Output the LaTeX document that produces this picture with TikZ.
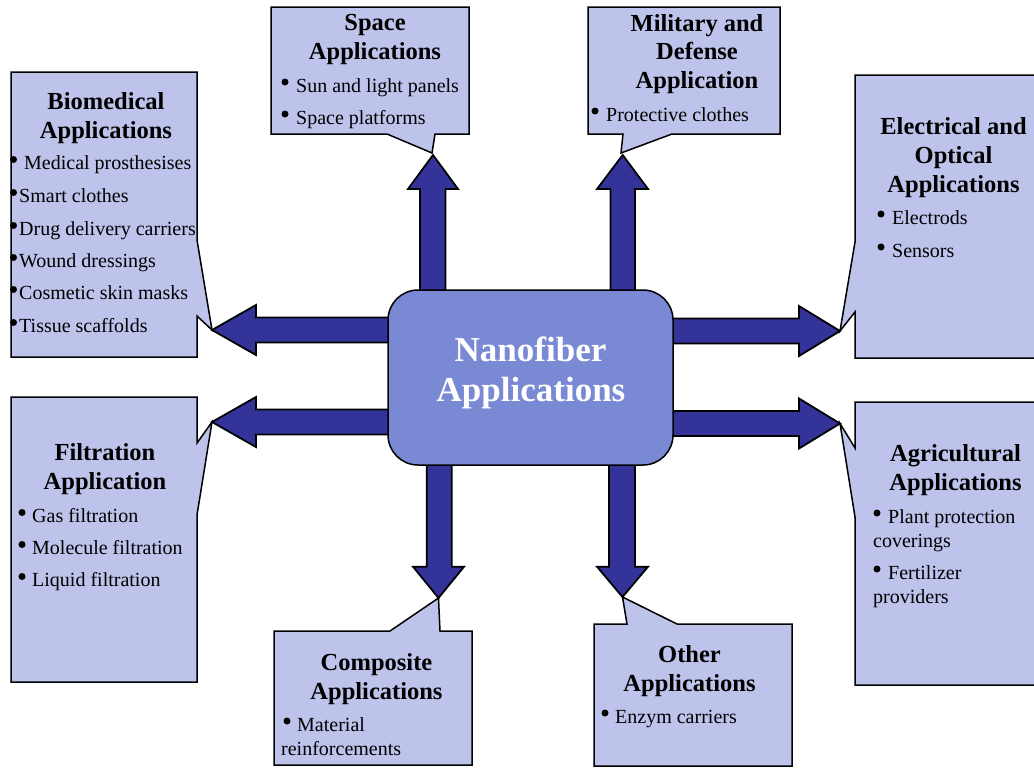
\documentclass[tikz,border=0pt]{standalone}
\usepackage{fontspec}
\setmainfont{Liberation Serif}
\definecolor{callfill}{HTML}{BDC3EA}
\definecolor{hubfill}{HTML}{7A89D4}
\definecolor{arrowfill}{HTML}{333399}
\begin{document}
\begin{tikzpicture}[x=1pt,y=-1pt,
  callout/.style={draw=black, line width=1.5pt, fill=callfill, line join=miter},
  blockarrow/.style={draw=black, line width=1.8pt, fill=arrowfill, line join=miter},
  hubbox/.style={draw=black, line width=1.5pt, fill=hubfill, rounded corners=30pt,
    minimum width=285pt, minimum height=175pt, inner sep=0pt},
  hubtxt/.style={font=\fontsize{35}{40}\selectfont\bfseries, text=white, inner sep=0pt, anchor=base},
  ttl/.style={font=\fontsize{24.5}{29}\selectfont\bfseries, inner sep=0pt, anchor=base},
  itm/.style={font=\fontsize{20}{24}\selectfont, inner sep=0pt, anchor=base west},
  bdot/.style={circle, fill=black, inner sep=0pt, minimum size=7pt}
]
\useasboundingbox (0,0) rectangle (1034,769);

% ---------- block arrows (drawn first, hub covers shaft ends)
\draw[blockarrow] (420,300) -- (420,189) -- (408,189) -- (433,155) -- (458,189) -- (445.5,189) -- (445.5,300) -- cycle;
\draw[blockarrow] (610.5,300) -- (610.5,189) -- (597,189) -- (622.7,155) -- (648,189) -- (635,189) -- (635,300) -- cycle;
\draw[blockarrow] (426.7,455) -- (426.7,566.7) -- (413,566.7) -- (438.5,598) -- (464,566.7) -- (451.7,566.7) -- (451.7,455) -- cycle;
\draw[blockarrow] (609,455) -- (609,566.7) -- (597,566.7) -- (622.5,597) -- (648,566.7) -- (635,566.7) -- (635,455) -- cycle;
\draw[blockarrow] (400,317.5) -- (256,317.5) -- (256,305) -- (212,330) -- (256,355) -- (256,342.5) -- (400,342.5) -- cycle;
\draw[blockarrow] (400,409.5) -- (256,409.5) -- (256,397) -- (212,422) -- (256,447) -- (256,434.5) -- (400,434.5) -- cycle;
\draw[blockarrow] (660,318.5) -- (799,318.5) -- (799,306) -- (840,331) -- (799,356) -- (799,343.5) -- (660,343.5) -- cycle;
\draw[blockarrow] (660,411) -- (799,411) -- (799,398.5) -- (840,423.5) -- (799,448.5) -- (799,436) -- (660,436) -- cycle;

% ---------- hub
\node[hubbox] (hub) at (530.5,377.5) {};
\node[hubtxt] (hubt1) at (530.5,361) {Nanofiber};
\node[hubtxt] (hubt2) at (531,401) {Applications};

% ---------- Biomedical
\draw[callout] (11,72) -- (197,72) -- (197,240) -- (212,330) -- (197,316) -- (197,357) -- (11,357) -- cycle;
\node[ttl] (bio1) at (106,109) {Biomedical};
\node[ttl] (bio2) at (106,138) {Applications};
\node[itm] (bioa) at (24,169.5) {Medical prosthesises};
\node[itm] (biob) at (19,202.5) {Smart clothes};
\node[itm] (bioc) at (19,235.5) {Drug delivery carriers};
\node[itm] (biod) at (19,267.5) {Wound dressings};
\node[itm] (bioe) at (19,299.5) {Cosmetic skin masks};
\node[itm] (biof) at (19,332.5) {Tissue scaffolds};
\foreach \yy in {159.5,192.5,225.5,257.5,289.5,322.5} \node[bdot] at (13.5,\yy) {};

% ---------- Filtration
\draw[callout] (11,397) -- (197,397) -- (197,443) -- (212,422) -- (197,515) -- (197,682) -- (11,682) -- cycle;
\node[ttl] (fil1) at (105,460) {Filtration};
\node[ttl] (fil2) at (105,489) {Application};
\node[itm] (fila) at (32,522.5) {Gas filtration};
\node[itm] (filb) at (32,554.5) {Molecule filtration};
\node[itm] (filc) at (32,586.5) {Liquid filtration};
\foreach \yy in {512.5,544.5,576.5} \node[bdot] at (22,\yy) {};

% ---------- Space
\draw[callout] (271,7) -- (469,7) -- (469,134) -- (435,134) -- (432,153) -- (387,134) -- (271,134) -- cycle;
\node[ttl] (spa1) at (375,30) {Space};
\node[ttl] (spa2) at (375,59) {Applications};
\node[itm] (spaa) at (296,92.5) {Sun and light panels};
\node[itm] (spab) at (296,124.5) {Space platforms};
\foreach \yy in {82,114} \node[bdot] at (285,\yy) {};

% ---------- Military
\draw[callout] (588,7) -- (780,7) -- (780,134) -- (672,134) -- (621,153) -- (623,134) -- (588,134) -- cycle;
\node[ttl] (mil1) at (697,31) {Military and};
\node[ttl] (mil2) at (697,59) {Defense};
\node[ttl] (mil3) at (697,88) {Application};
\node[itm] (mila) at (606,121.5) {Protective clothes};
\node[bdot] at (595,111) {};

% ---------- Electrical
\draw[callout] (855,75) -- (1036,75) -- (1036,358) -- (855,358) -- (855,312) -- (840,331) -- (855,242) -- cycle;
\node[ttl] (ele1) at (953.5,134) {Electrical and};
\node[ttl] (ele2) at (953.5,163) {Optical};
\node[ttl] (ele3) at (953.5,192) {Applications};
\node[itm] (elea) at (892,224.5) {Electrods};
\node[itm] (eleb) at (892,257.5) {Sensors};
\foreach \yy in {214,247} \node[bdot] at (881,\yy) {};

% ---------- Agricultural
\draw[callout] (855,402) -- (1036,402) -- (1036,685) -- (855,685) -- (855,517) -- (840,423.5) -- (855,448) -- cycle;
\node[ttl] (agr1) at (955.5,461) {Agricultural};
\node[ttl] (agr2) at (955.5,490) {Applications};
\node[itm] (agra) at (888,523.5) {Plant protection};
\node[itm] (agrb) at (873,547.5) {coverings};
\node[itm] (agrc) at (888,579.5) {Fertilizer};
\node[itm] (agrd) at (873,603.5) {providers};
\foreach \yy in {513,569} \node[bdot] at (877,\yy) {};

% ---------- Composite
\draw[callout] (274,631) -- (390,631) -- (438.5,598) -- (440,631) -- (472,631) -- (472,765) -- (274,765) -- cycle;
\node[ttl] (com1) at (376.5,670) {Composite};
\node[ttl] (com2) at (376.5,699) {Applications};
\node[itm] (coma) at (297,731.5) {Material};
\node[itm] (comb) at (281,755.5) {reinforcements};
\node[bdot] at (287,721) {};

% ---------- Other
\draw[callout] (594,624) -- (627,624) -- (622.5,597) -- (677,624) -- (792,624) -- (792,766) -- (594,766) -- cycle;
\node[ttl] (oth1) at (689.5,662) {Other};
\node[ttl] (oth2) at (689.5,691) {Applications};
\node[itm] (otha) at (615,723.5) {Enzym carriers};
\node[bdot] at (605,713) {};
\end{tikzpicture}
\end{document}
